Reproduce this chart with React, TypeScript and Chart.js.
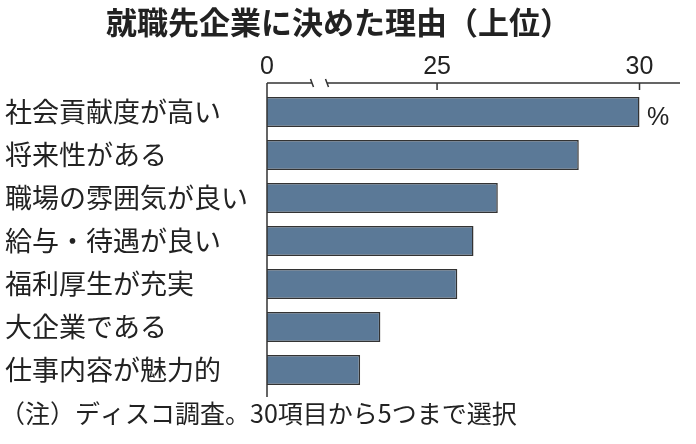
import { useEffect, useRef } from 'react';
import { Chart, registerables } from 'chart.js';

Chart.register(...registerables);

// 就職先企業に決めた理由（上位）, %
const categories = [
  '社会貢献度が高い',
  '将来性がある',
  '職場の雰囲気が良い',
  '給与・待遇が良い',
  '福利厚生が充実',
  '大企業である',
  '仕事内容が魅力的',
];
const shares = [30.0, 28.5, 26.5, 25.9, 25.5, 23.6, 23.1];

// the axis is broken: its left end stands for 0
const AXIS_MIN = 20.8;
const AXIS_MAX = 31;
const tickValues = [AXIS_MIN, 25, 30];
const tickLabels = ['0', '25', '30'];

const TITLE = '就職先企業に決めた理由（上位）';
const NOTE = '（注）ディスコ調査。30項目から5つまで選択';
const UNIT = '%';

const JP_FONT = '"Noto Sans CJK JP", "Noto Sans", sans-serif';
const NUM_FONT = '"Liberation Sans", Arial, sans-serif';
const TEXT_COLOR = '#222';
const LINE_COLOR = '#333';

const decorations = {
  id: 'decorations',
  afterDraw(chart: any) {
    const { ctx, chartArea, scales } = chart;
    const { left, right, top, bottom } = chartArea;
    const axisY = top - 7.5;
    const breakA = left + 45;
    const breakB = left + 60;

    ctx.save();
    ctx.strokeStyle = LINE_COLOR;
    ctx.lineWidth = 1.5;
    ctx.beginPath();
    // top axis with a break
    ctx.moveTo(left, axisY);
    ctx.lineTo(breakA, axisY);
    ctx.moveTo(breakB, axisY);
    ctx.lineTo(right, axisY);
    [breakA, breakB].forEach((bx) => {
      ctx.moveTo(bx - 1.5, axisY - 4);
      ctx.lineTo(bx + 1.5, axisY + 4);
    });
    // ticks point down into the plot
    tickValues.slice(1).forEach((v) => {
      const px = scales.x.getPixelForValue(v);
      ctx.moveTo(px, axisY);
      ctx.lineTo(px, axisY + 7);
    });
    // left axis
    ctx.moveTo(left, axisY);
    ctx.lineTo(left, bottom + 5.5);
    ctx.stroke();

    ctx.fillStyle = TEXT_COLOR;
    ctx.textBaseline = 'middle';

    ctx.font = `bold 31px ${JP_FONT}`;
    ctx.textAlign = 'left';
    ctx.fillText(TITLE, 106, 22);

    ctx.font = `25px ${JP_FONT}`;
    ctx.fillText(NOTE, 0, 413);

    const firstBar = chart.getDatasetMeta(0).data[0];
    ctx.font = `25px ${NUM_FONT}`;
    ctx.fillText(UNIT, scales.x.getPixelForValue(AXIS_MAX) - 33, firstBar.y + 6);
    ctx.restore();
  },
};

export default function App() {
  const canvasRef = useRef<HTMLCanvasElement>(null);
  const chartRef = useRef<Chart | null>(null);

  useEffect(() => {
    if (!canvasRef.current) return;
    if (chartRef.current) chartRef.current.destroy();

    chartRef.current = new Chart(canvasRef.current, {
      type: 'bar',
      data: {
        labels: categories,
        datasets: [
          {
            data: shares,
            backgroundColor: '#5b7997',
            borderColor: LINE_COLOR,
            borderWidth: 1.5,
            borderSkipped: false,
            categoryPercentage: 1,
            barPercentage: 0.7,
          },
        ],
      },
      options: {
        indexAxis: 'y',
        responsive: false,
        animation: false,
        layout: { padding: { top: 46, bottom: 52.5, left: 5, right: 16 } },
        plugins: {
          legend: { display: false },
          tooltip: { enabled: false },
        },
        scales: {
          x: {
            type: 'linear',
            position: 'top',
            min: AXIS_MIN,
            max: AXIS_MAX,
            grid: { display: false, drawTicks: false },
            border: { display: false },
            afterBuildTicks: (scale: any) => {
              scale.ticks = tickValues.map((value) => ({ value }));
            },
            afterFit: (scale: any) => {
              scale.height = 44.5;
            },
            ticks: {
              autoSkip: false,
              maxRotation: 0,
              padding: 8.5,
              color: TEXT_COLOR,
              font: { family: NUM_FONT, size: 25 },
              callback: (_value: any, index: number) => tickLabels[index],
            },
          },
          y: {
            grid: { display: false },
            border: { display: false },
            afterFit: (scale: any) => {
              scale.width = 262;
            },
            ticks: {
              crossAlign: 'far',
              color: TEXT_COLOR,
              font: { family: JP_FONT, size: 27 },
            },
          },
        },
      },
      plugins: [decorations],
    });

    return () => {
      if (chartRef.current) {
        chartRef.current.destroy();
        chartRef.current = null;
      }
    };
  }, []);

  return (
    <div style={{ position: 'absolute', left: 0, top: 0, width: 696, height: 444, background: '#fff' }}>
      <canvas ref={canvasRef} width={696} height={444} style={{ display: 'block' }} />
    </div>
  );
}
